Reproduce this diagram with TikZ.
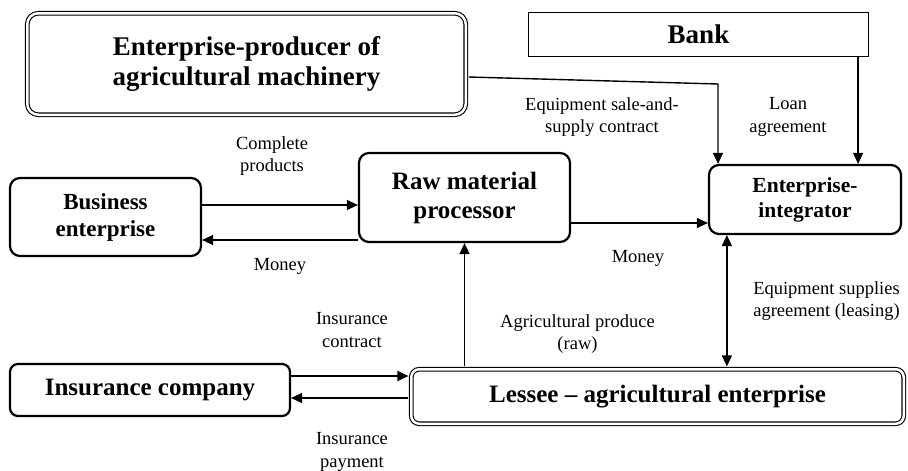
\documentclass[tikz,border=0pt]{standalone}
\usepackage{fontspec}
\setmainfont{Liberation Serif}
\usetikzlibrary{arrows.meta}
\tikzset{
  thickbox/.style={draw, line width=2.2pt, rounded corners=10pt, align=center, inner sep=0pt, font=\bfseries},
  dblbox/.style={draw, double, double distance=2.5pt, line width=1.1pt, rounded corners=11pt, align=center, inner sep=0pt, font=\bfseries},
  plainbox/.style={draw, line width=1.2pt, align=center, inner sep=0pt, font=\bfseries},
  arr/.style={line width=1.4pt, -{Triangle[length=11pt,width=10pt]}},
  darr/.style={line width=1.4pt, {Triangle[length=11pt,width=10pt]}-{Triangle[length=11pt,width=10pt]}},
  lbl/.style={align=center, inner sep=0pt, font=\fontsize{18.5}{22.5}\selectfont},
}
\begin{document}
\begin{tikzpicture}[x=1pt, y=-1pt]
\useasboundingbox (0,0) rectangle (908,471);

\node[dblbox, minimum width=438.5pt, minimum height=101.5pt, font=\bfseries\fontsize{27}{30}\selectfont] (prod) at (246.5,64) {Enterprise-producer of\\agricultural machinery};
\node[plainbox, minimum width=340pt, minimum height=44pt, font=\bfseries\fontsize{27}{30}\selectfont] (bank) at (698.5,34.5) {Bank};
\node[thickbox, minimum width=192pt, minimum height=69pt, font=\bfseries\fontsize{21.5}{25}\selectfont] (integ) at (805,199.5) {Enterprise-\\integrator};
\node[thickbox, minimum width=211pt, minimum height=89pt, font=\bfseries\fontsize{25}{29}\selectfont] (raw) at (464.5,197.5) {Raw material\\processor};
\node[thickbox, minimum width=191pt, minimum height=78pt, font=\bfseries\fontsize{23}{27}\selectfont] (bus) at (105.5,217) {Business\\enterprise};
\node[thickbox, rounded corners=8pt, minimum width=280pt, minimum height=52pt, font=\bfseries\fontsize{25}{29}\selectfont] (ins) at (150,390) {Insurance company};
\node[dblbox, rounded corners=8pt, minimum width=492.5pt, minimum height=54.5pt, font=\bfseries\fontsize{25}{29}\selectfont] (les) at (657.5,396.5) {Lessee -- agricultural enterprise};

\coordinate (bend) at (718,84);

\draw[arr] ([yshift=12pt]bus.east) -- ([yshift=12pt]bus.east -| raw.west);
\draw[arr] ([yshift=-23pt]bus.east -| raw.west) -- ([yshift=-23pt]bus.east);
\draw[arr] ([yshift=-25.5pt]raw.east) -- ([yshift=-25.5pt]raw.east -| integ.west);
\draw[arr] ([xshift=2.25pt,yshift=-13pt]prod.east) -- (bend) -- (bend |- integ.north);
\draw[arr] ([xshift=-11pt]bank.south east) -- ([xshift=-11pt]bank.south east |- integ.north);
\draw[arr, shorten <=2.25pt] (raw.south |- les.north) -- (raw.south);
\draw[darr, shorten >=2.25pt] ([xshift=19pt]integ.south west) -- ([xshift=19pt]integ.south west |- les.north);
\draw[arr, shorten >=2.25pt] ([yshift=14pt]ins.east) -- ([yshift=14pt]ins.east -| les.west);
\draw[arr, shorten <=2.25pt] ([yshift=-8pt]ins.east -| les.west) -- ([yshift=-8pt]ins.east);

\node[lbl] (lcp) at (272,156) {Complete\\products};
\node[lbl] (lm1) at (280,266) {Money};
\node[lbl] (less) at (602,117) {Equipment sale-and-\\supply contract};
\node[lbl] (lloan) at (788,117) {Loan\\agreement};
\node[lbl] (lm2) at (638,258) {Money};
\node[lbl] (lesa) at (826.5,301) {Equipment supplies\\agreement (leasing)};
\node[lbl] (lap) at (577.5,334) {Agricultural produce\\(raw)};
\node[lbl] (lic) at (352,330) {Insurance\\contract};
\node[lbl] (lip) at (352,452) {Insurance\\payment};
\end{tikzpicture}
\end{document}
